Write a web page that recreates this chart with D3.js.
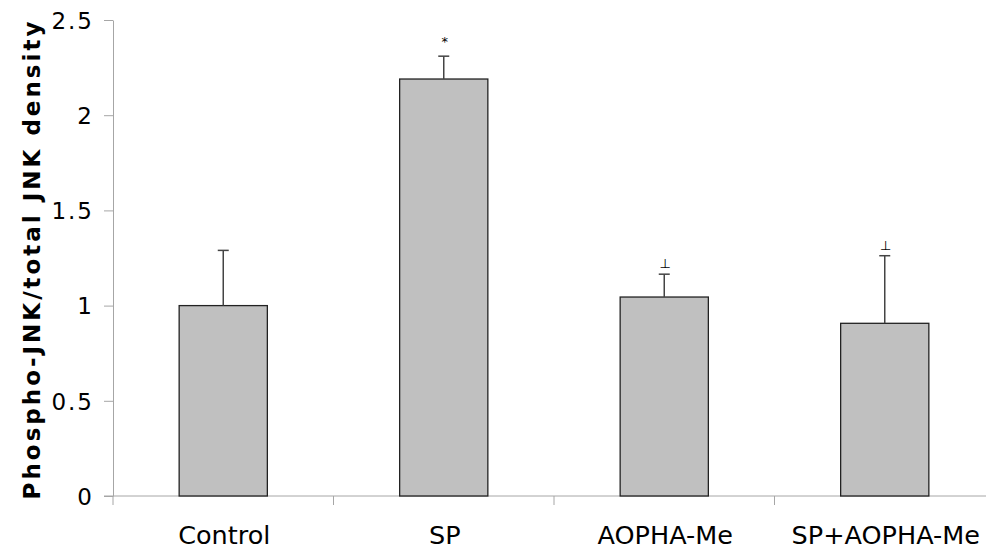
<!DOCTYPE html>
<html>
<head>
<meta charset="utf-8">
<script src="https://cdn.jsdelivr.net/npm/d3@7"></script>
<style>
  body { margin: 0; background: #fff; }
  svg { display: block; }
</style>
</head>
<body>
<div id="container"></div>
<script>
/* DATA */
const categories = ["Control", "SP", "AOPHA-Me", "SP+AOPHA-Me"];
const means = [1.0, 2.19, 1.045, 0.907];
const errors = [0.29, 0.12, 0.12, 0.355];
const marks = ["", "*", "\u22A5", "\u22A5"];
const yTicks = [0, 0.5, 1, 1.5, 2, 2.5];

/* CONSTANTS */
const width = 986;
const height = 550;
const margin = { top: 20, left: 113, right: -9, bottom: 54 };
const font = "'DejaVu Sans', Verdana, sans-serif";

const svg = d3
  .select("#container")
  .append("svg")
  .attr("width", width)
  .attr("height", height);

/* SCALES */
const xScale = d3
  .scaleBand()
  .domain(categories)
  .range([margin.left, width - margin.right])
  .paddingInner(0.6)
  .paddingOuter(0.3);

const yScale = d3
  .scaleLinear()
  .domain([0, 2.5])
  .range([height - margin.bottom, margin.top]);

const step = xScale.step();
const y0 = yScale(0);

// Y AXIS ----------------------------------------------
const yAxis = svg
  .append("g")
  .attr("transform", `translate(${margin.left},0)`)
  .call(
    d3.axisLeft(yScale)
      .tickValues(yTicks)
      .tickSize(9)
      .tickSizeOuter(0)
      .tickPadding(10)
      .tickFormat((d) => d)
  );
yAxis.select(".domain").attr("stroke", "#a6a6a6").attr("stroke-width", 1);
yAxis.selectAll(".tick line").attr("stroke", "#a6a6a6");
yAxis
  .selectAll(".tick text")
  .attr("dy", "0.36em")
  .attr("fill", "#000")
  .style("font-family", font)
  .style("font-size", "23px")
  .style("letter-spacing", "2px");

// X AXIS ----------------------------------------------
svg
  .append("line")
  .attr("x1", margin.left - 9)
  .attr("x2", width)
  .attr("y1", y0)
  .attr("y2", y0)
  .attr("stroke", "#a6a6a6");

svg
  .selectAll(".x-tick")
  .data(categories)
  .join("line")
  .attr("class", "x-tick")
  .attr("x1", (d) => xScale(d) - step * 0.3)
  .attr("x2", (d) => xScale(d) - step * 0.3)
  .attr("y1", y0)
  .attr("y2", y0 + 9)
  .attr("stroke", "#a6a6a6");

svg
  .selectAll(".x-label")
  .data(categories)
  .join("text")
  .attr("class", "x-label")
  .attr("x", (d) => xScale(d) + xScale.bandwidth() / 2 + 1)
  .attr("y", y0 + 48)
  .attr("text-anchor", "middle")
  .style("font-family", font)
  .style("font-size", "25.5px")
  .text((d) => d);

// BARS ------------------------------------------------
svg
  .selectAll(".bar")
  .data(categories)
  .join("rect")
  .attr("class", "bar")
  .attr("x", (d) => xScale(d))
  .attr("y", (d, i) => yScale(means[i]))
  .attr("width", xScale.bandwidth())
  .attr("height", (d, i) => y0 - yScale(means[i]))
  .attr("fill", "#c0c0c0")
  .attr("stroke", "#222")
  .attr("stroke-width", 1.3);

// ERROR BARS ------------------------------------------
const cx = (d) => xScale(d) + xScale.bandwidth() / 2;

svg
  .selectAll(".err")
  .data(categories)
  .join("line")
  .attr("class", "err")
  .attr("x1", cx)
  .attr("x2", cx)
  .attr("y1", (d, i) => yScale(means[i]))
  .attr("y2", (d, i) => yScale(means[i] + errors[i]))
  .attr("stroke", "#444")
  .attr("stroke-width", 1.5);

svg
  .selectAll(".err-cap")
  .data(categories)
  .join("line")
  .attr("class", "err-cap")
  .attr("x1", (d) => cx(d) - 5.5)
  .attr("x2", (d) => cx(d) + 5.5)
  .attr("y1", (d, i) => yScale(means[i] + errors[i]))
  .attr("y2", (d, i) => yScale(means[i] + errors[i]))
  .attr("stroke", "#444")
  .attr("stroke-width", 1.5);

// SIGNIFICANCE MARKS ----------------------------------
svg
  .selectAll(".sig")
  .data(categories)
  .join("text")
  .attr("class", "sig")
  .attr("x", (d) => cx(d) + 1)
  .attr("y", (d, i) => yScale(means[i] + errors[i]) - (i === 1 ? 10 : 6))
  .attr("text-anchor", "middle")
  .attr("fill", "#000")
  .style("font-family", font)
  .style("font-size", (d, i) => (i === 1 ? "13px" : "13px"))
  .text((d, i) => marks[i]);

// Y TITLE ---------------------------------------------
svg
  .append("text")
  .attr("transform", `translate(40,${(y0 + margin.top) / 2 + 1}) rotate(-90)`)
  .attr("text-anchor", "middle")
  .style("font-family", font)
  .style("font-weight", "bold")
  .style("font-size", "23px")
  .style("letter-spacing", "3px")
  .text("Phospho-JNK/total JNK density");
</script>
</body>
</html>
